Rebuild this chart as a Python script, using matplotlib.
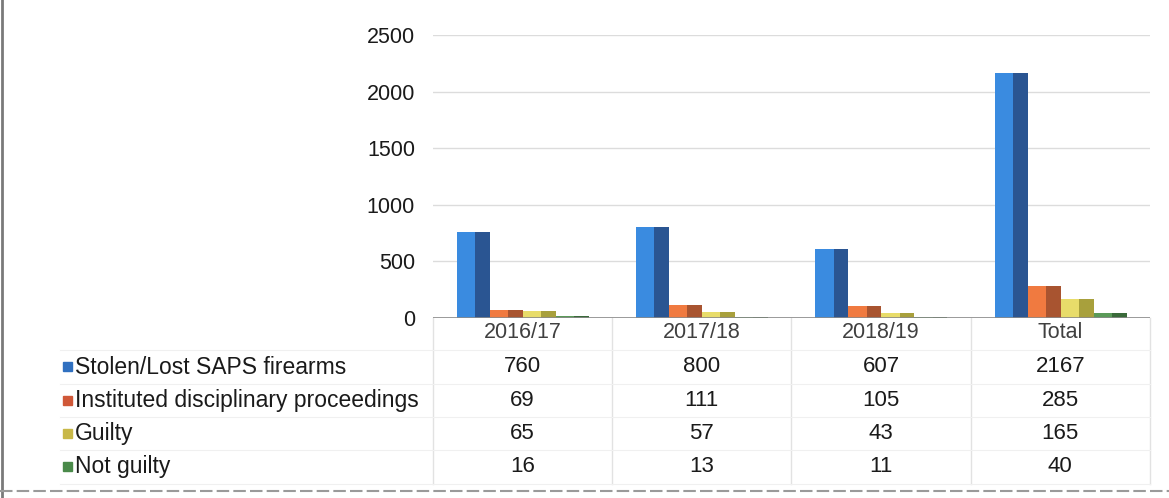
import numpy as np
import matplotlib
matplotlib.use("Agg")
import matplotlib.pyplot as plt
from matplotlib.transforms import blended_transform_factory
from matplotlib.lines import Line2D
from matplotlib.patches import Rectangle

plt.rcParams['font.family'] = ['Liberation Sans', 'DejaVu Sans']

categories = ["2016/17", "2017/18", "2018/19", "Total"]
series = ["Stolen/Lost SAPS firearms", "Instituted disciplinary proceedings",
          "Guilty", "Not guilty"]
stolen = [760, 800, 607, 2167]
instituted = [69, 111, 105, 285]
guilty = [65, 57, 43, 165]
not_guilty = [16, 13, 11, 40]
values = [stolen, instituted, guilty, not_guilty]

light = ["#3a8be0", "#f07a40", "#e8dc6a", "#5a9a58"]
dark = ["#2a5592", "#a85430", "#a8a03c", "#3a6a3a"]
marker_col = ["#3070c0", "#d05838", "#c8b848", "#4a8a4a"]

fig = plt.figure(figsize=(11.69, 4.98), dpi=100)
ax = fig.add_axes([0.3704, 0.3614, 0.6133, 0.5683])

x = np.arange(len(categories))
w = 0.184
start = 0.134
for i, vals in enumerate(values):
    left = x + start + i * w
    ax.bar(left, vals, width=w, align='edge', color=light[i], zorder=3)
    ax.bar(left + w * 0.55, vals, width=w * 0.45, align='edge', color=dark[i], zorder=4)

ax.set_xlim(0, len(categories))
ax.set_ylim(0, 2500)
ax.set_yticks([0, 500, 1000, 1500, 2000, 2500])
ax.tick_params(axis='y', length=0, pad=13, labelsize=15.5, labelcolor="#1a1a1a")
ax.set_xticks([])
ax.grid(axis='y', color="#dcdcdc", linewidth=1, zorder=0)
for s in ax.spines.values():
    s.set_visible(False)
ax.axhline(0, color="#8a8a8a", linewidth=1.2, zorder=5)

# data table below the plot
tr = blended_transform_factory(ax.transData, fig.transFigure)
row_y = [1 - 333 / 498, 1 - 367 / 498, 1 - 400 / 498, 1 - 433 / 498, 1 - 466 / 498]
for j, c in enumerate(categories):
    ax.text(j + 0.5, row_y[0], c, transform=tr, ha='center', va='center',
            fontsize=15.5, color="#404040")
    for i, vals in enumerate(values):
        ax.text(j + 0.5, row_y[i + 1], str(vals[j]), transform=tr, ha='center',
                va='center', fontsize=16, color="#1a1a1a")
for i, name in enumerate(series):
    fig.text(75 / 1169, row_y[i + 1], name, ha='left', va='center',
             fontsize=16.5, color="#1a1a1a")
    fig.patches.append(Rectangle((63 / 1169, row_y[i + 1] - 4.5 / 498), 9 / 1169, 9 / 498,
                                 transform=fig.transFigure, color=marker_col[i]))

for xb in range(len(categories) + 1):
    ax.add_line(Line2D([xb, xb], [1 - 318 / 498, 1 - 484 / 498], transform=tr,
                       color="#e2e2e2", linewidth=1, clip_on=False))
for yb in [350, 384, 417, 450, 484]:
    fig.add_artist(Line2D([60 / 1169, 1150 / 1169], [1 - yb / 498, 1 - yb / 498],
                          color="#f0f0f0", linewidth=0.8))

# frame from the scanned page
fig.add_artist(Line2D([2 / 1169, 2 / 1169], [0, 1], color="#7a7a7a", linewidth=2))
fig.add_artist(Line2D([0, 1], [1 - 491 / 498, 1 - 491 / 498], color="#9a9a9a",
                      linewidth=1.5, linestyle=(0, (6, 2))))

fig.savefig("out.png", dpi=100)
